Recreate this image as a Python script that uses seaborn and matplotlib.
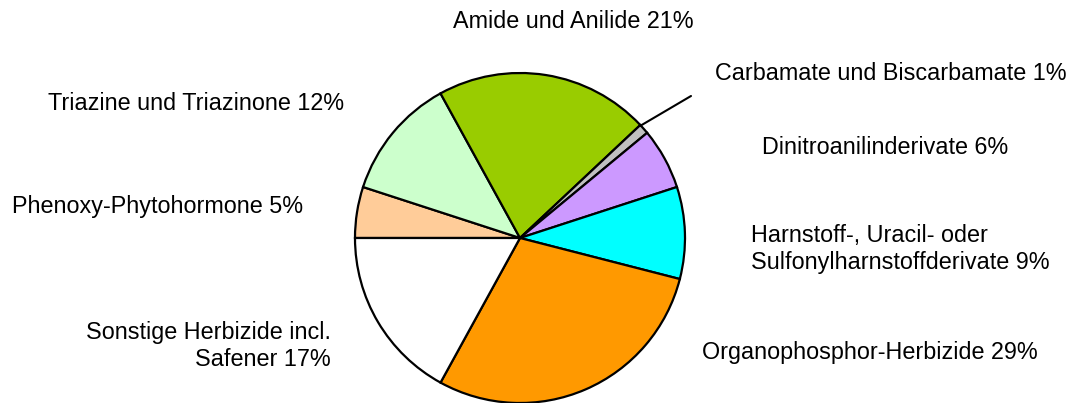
import matplotlib
matplotlib.use("Agg")
import matplotlib.pyplot as plt
import seaborn as sns

# Herbicide classes, clockwise from 9 o'clock
categories = [
    "Phenoxy-Phytohormone",
    "Triazine und Triazinone",
    "Amide und Anilide",
    "Carbamate und Biscarbamate",
    "Dinitroanilinderivate",
    "Harnstoff-, Uracil- oder\nSulfonylharnstoffderivate",
    "Organophosphor-Herbizide",
    "Sonstige Herbizide incl.\nSafener",
]
shares = [5, 12, 21, 1, 6, 9, 29, 17]
colors = ["#FFCC99", "#CCFFCC", "#99CC00", "#C0C0C0",
          "#CC99FF", "#00FFFF", "#FF9900", "#FFFFFF"]

sns.set_style("white")
plt.rcParams["font.family"] = ["Liberation Sans", "DejaVu Sans"]
plt.rcParams["text.color"] = "black"

W, H = 1081, 403
fig = plt.figure(figsize=(W / 100, H / 100), dpi=100)
ax = fig.add_axes([0, 0, 1, 1])

cx, cy, r = 520, 238, 165
wedges, _ = ax.pie(
    shares, colors=colors, startangle=180, counterclock=True,
    center=(cx, cy), radius=r, frame=True,
    wedgeprops=dict(edgecolor="black", linewidth=1.6),
)
ax.set_xlim(0, W)
ax.set_ylim(H, 0)
ax.set_aspect("equal")
ax.axis("off")

# label positions (pixels) and alignment
label_pos = [
    (12, 207, "left"),
    (48, 104, "left"),
    (573, 21, "center"),
    (715, 73, "left"),
    (762, 147, "left"),
    (751, 249, "left"),
    (702, 352, "left"),
    (331, 346, "right"),
]
for cat, val, (x, y, ha) in zip(categories, shares, label_pos):
    ax.text(x, y, f"{cat} {val}%", ha=ha, va="center", fontsize=16.8,
            linespacing=1.2, multialignment=ha, color="black")

# leader line for the small Carbamate slice
ax.plot([640, 691], [126, 96], color="black", linewidth=1.5)

fig.savefig("out.png", dpi=100)
